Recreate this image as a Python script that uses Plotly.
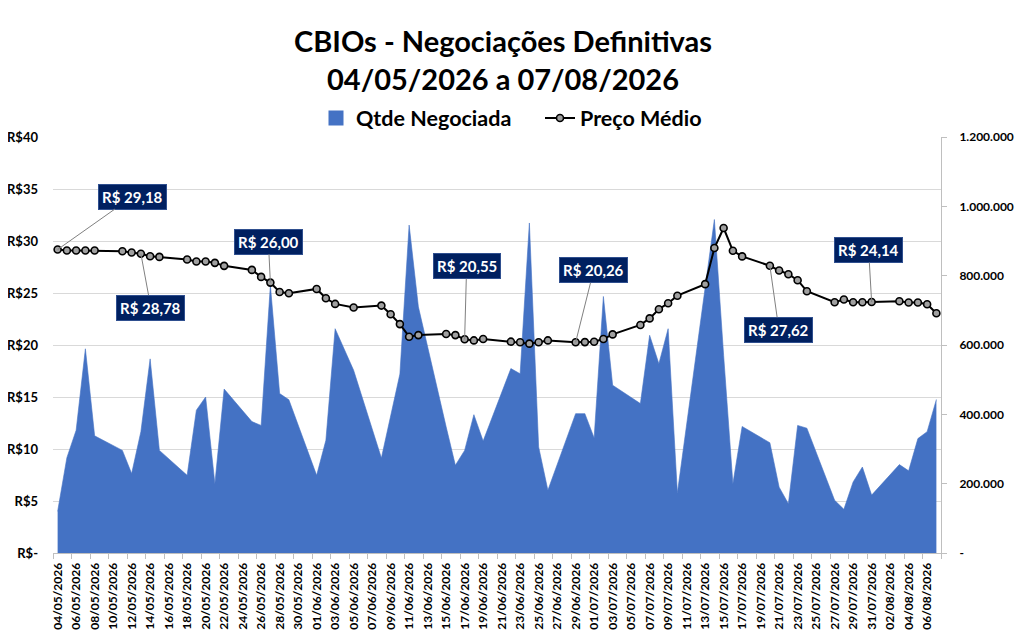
import plotly.graph_objects as go
import pandas as pd

# ---------------- data ----------------
dates = [
    "2026-05-04", "2026-05-05", "2026-05-06", "2026-05-07", "2026-05-08",
    "2026-05-11", "2026-05-12", "2026-05-13", "2026-05-14", "2026-05-15",
    "2026-05-18", "2026-05-19", "2026-05-20", "2026-05-21", "2026-05-22",
    "2026-05-25", "2026-05-26", "2026-05-27", "2026-05-28", "2026-05-29",
    "2026-06-01", "2026-06-02", "2026-06-03", "2026-06-05",
    "2026-06-08", "2026-06-09", "2026-06-10", "2026-06-11", "2026-06-12",
    "2026-06-15", "2026-06-16", "2026-06-17", "2026-06-18", "2026-06-19",
    "2026-06-22", "2026-06-23", "2026-06-24", "2026-06-25", "2026-06-26",
    "2026-06-29", "2026-06-30", "2026-07-01", "2026-07-02", "2026-07-03",
    "2026-07-06", "2026-07-07", "2026-07-08", "2026-07-09", "2026-07-10",
    "2026-07-13", "2026-07-14", "2026-07-15", "2026-07-16", "2026-07-17",
    "2026-07-20", "2026-07-21", "2026-07-22", "2026-07-23", "2026-07-24",
    "2026-07-27", "2026-07-28", "2026-07-29", "2026-07-30", "2026-07-31",
    "2026-08-03", "2026-08-04", "2026-08-05", "2026-08-06", "2026-08-07",
]

preco_medio = [
    29.18, 29.08, 29.08, 29.08, 29.08,
    29.02, 28.89, 28.78, 28.54, 28.47,
    28.22, 28.03, 28.03, 27.90, 27.61,
    27.22, 26.55, 26.00, 25.10, 24.98,
    25.39, 24.49, 23.95, 23.60,
    23.79, 22.95, 22.01, 20.80, 20.95,
    21.06, 20.95, 20.55, 20.44, 20.57,
    20.32, 20.26, 20.13, 20.26, 20.44,
    20.26, 20.28, 20.31, 20.57, 21.02,
    21.93, 22.56, 23.44, 24.02, 24.74,
    25.85, 29.32, 31.25, 29.06, 28.52,
    27.62, 27.16, 26.81, 26.23, 25.17,
    24.11, 24.37, 24.11, 24.11, 24.14,
    24.21, 24.08, 24.08, 23.92, 23.05,
]

qtde_negociada = [
    120000, 275000, 354000, 589000, 338000,
    296000, 229000, 350000, 560000, 296000,
    224000, 412000, 450000, 200000, 473000,
    379000, 368000, 772000, 460000, 442000,
    224000, 325000, 647000, 527000,
    274000, 392000, 516000, 946000, 710000,
    364000, 253000, 296000, 399000, 323000,
    532000, 517000, 952000, 306000, 181000,
    402000, 402000, 332000, 740000, 484000,
    431000, 628000, 546000, 647000, 173000,
    765000, 962000, 570000, 200000, 365000,
    318000, 190000, 142000, 368000, 360000,
    152000, 126000, 205000, 248000, 167000,
    255000, 237000, 330000, 350000, 443000,
]

# labelled points: (date, offset x px, offset y px)
labelled_dates = ["2026-05-04", "2026-05-13", "2026-05-27", "2026-06-17",
                  "2026-06-29", "2026-07-20", "2026-07-31"]
label_offsets = [(75, -53), (10, 54), (-2, -41), (2, -73), (18, -72), (9, 64), (-3, -52)]

price_ticks = [0, 5, 10, 15, 20, 25, 30, 35, 40]
price_ticktext = ["R$-", "R$5", "R$10", "R$15", "R$20", "R$25", "R$30", "R$35", "R$40"]
qty_ticks = [0, 200000, 400000, 600000, 800000, 1000000, 1200000]
qty_ticktext = ["-", "200.000", "400.000", "600.000", "800.000", "1.000.000", "1.200.000"]

x_tick_dates = list(pd.date_range("2026-05-04", "2026-08-06", freq="2D"))

title_text = "CBIOs - Negociações Definitivas<br>04/05/2026 a 07/08/2026"

# ---------------- figure ----------------
FONT = "Lato, Roboto, sans-serif"
BLUE = "#4472C4"
# the page body adds an 8 px offset, so the figure is drawn 8 px smaller
W, H = 1016, 630

fig = go.Figure()

fig.add_trace(go.Scatter(
    x=dates, y=qtde_negociada, name="Qtde Negociada",
    mode="lines", fill="tozeroy",
    line=dict(color=BLUE, width=0.6),
    fillcolor=BLUE,
    yaxis="y", showlegend=False, legendgroup="q",
))
# legend entry with a square swatch, like the original
fig.add_trace(go.Scatter(
    x=[None], y=[None], name="Qtde Negociada",
    mode="markers", marker=dict(symbol="square", size=15, color=BLUE),
    yaxis="y", legendgroup="q", legend="legend",
))

fig.add_trace(go.Scatter(
    x=dates, y=preco_medio, name="Preço Médio",
    mode="lines+markers",
    line=dict(color="#000000", width=2),
    marker=dict(symbol="circle", size=7, color="#a0a0a0",
                line=dict(color="#000000", width=1.6)),
    yaxis="y2", legend="legend2",
))

annotations = []
for d, (ax, ay) in zip(labelled_dates, label_offsets):
    v = preco_medio[dates.index(d)]
    annotations.append(dict(
        x=d, y=v, xref="x", yref="y2",
        text="R$ " + f"{v:.2f}".replace(".", ","),
        showarrow=True, arrowhead=0, arrowwidth=1, arrowcolor="#808080",
        ax=ax, ay=ay, standoff=0,
        bgcolor="#002060", bordercolor="#2f4f8f", borderwidth=1, borderpad=3,
        font=dict(family=FONT, size=15, color="white", weight="bold"),
    ))

legend_common = dict(
    orientation="h",
    xref="container", xanchor="left",
    y=1 - 110 / H, yref="container", yanchor="middle",
    font=dict(family=FONT, size=21.5, color="#000000", weight="bold"),
    itemwidth=30, bgcolor="rgba(0,0,0,0)",
)

fig.update_layout(
    width=W, height=H,
    margin=dict(l=45, r=83, t=129, b=85, autoexpand=False),
    paper_bgcolor="white", plot_bgcolor="white",
    font=dict(family=FONT, size=13, color="#000000", weight="bold"),
    title=dict(
        text=title_text,
        x=495 / W, xref="container", xanchor="center",
        y=1 - 44 / H, yref="container", yanchor="middle",
        font=dict(family=FONT, size=29, color="#000000", weight="bold"),
    ),
    legend=dict(x=308 / W, **legend_common),
    legend2=dict(x=532 / W, **legend_common),
    xaxis=dict(
        type="date",
        range=["2026-05-03 12:00", "2026-08-07 12:00"],
        tickvals=x_tick_dates,
        tickformat="%d/%m/%Y",
        tickangle=-90,
        ticks="",
        showgrid=False,
        showline=True, linecolor="#bfbfbf", linewidth=1,
        tickfont=dict(family=FONT, size=12, color="#000000", weight="bold"),
        ticklabelstandoff=4,
        minor=dict(ticks="outside", ticklen=5, tickcolor="#bfbfbf",
                   tick0="2026-05-03 12:00", dtick=2 * 86400000, showgrid=False),
        zeroline=False,
        automargin=False,
    ),
    yaxis=dict(
        side="right",
        range=[0, 1200000],
        tickvals=qty_ticks, ticktext=qty_ticktext,
        showgrid=False, zeroline=False,
        showline=True, linecolor="#bfbfbf", linewidth=1,
        ticks="outside", ticklen=5, tickcolor="#bfbfbf",
        ticklabelstandoff=10,
        tickfont=dict(family=FONT, size=12, color="#000000", weight="bold"),
        automargin=False,
    ),
    yaxis2=dict(
        overlaying="y", side="left",
        range=[0, 40],
        tickvals=price_ticks, ticktext=price_ticktext,
        showgrid=True, gridcolor="#d9d9d9", gridwidth=1,
        zeroline=False, showline=False, ticks="",
        ticklabelstandoff=14,
        tickfont=dict(family=FONT, size=13, color="#000000", weight="bold"),
        automargin=False,
    ),
    annotations=annotations,
)

fig.write_html("out.html")
